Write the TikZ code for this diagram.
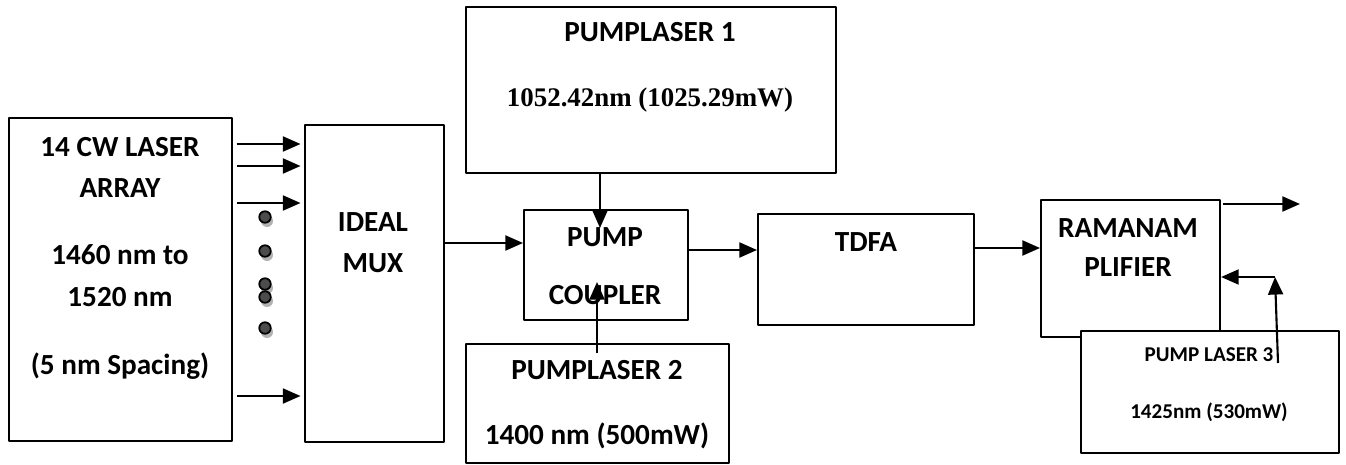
\documentclass[tikz,border=0pt]{standalone}
\usepackage{fontspec}
\setmainfont{Carlito}
\newfontfamily\tnr{Liberation Serif}
\usetikzlibrary{arrows.meta}
\begin{document}
\begin{tikzpicture}[x=0.2mm,y=-0.2mm,line join=round]
	\useasboundingbox (0,0) rectangle (1346,464);
	\tikzset{blk/.style={draw,line width=1.2pt,fill=white,anchor=north west,inner sep=0pt},
	lbl/.style={font=\bfseries\fontsize{16.6}{19}\selectfont,anchor=base,inner sep=0pt},
	lblnho/.style={font=\bfseries\fontsize{12}{14}\selectfont,anchor=base,inner sep=0pt},
	arr/.style={line width=1.2pt,-{Triangle[length=10pt,width=8.5pt]}}}
	% khoi
	\node[blk,minimum width=223*0.2mm,minimum height=323*0.2mm] (laser) at (8,117) {};
	\node[blk,minimum width=139*0.2mm,minimum height=317*0.2mm] (mux) at (304,124) {};
	\node[blk,minimum width=370*0.2mm,minimum height=166*0.2mm] (pump1) at (465,6) {};
	\node[blk,minimum width=164*0.2mm,minimum height=110*0.2mm] (coupler) at (523,209) {};
	\node[blk,minimum width=263*0.2mm,minimum height=119*0.2mm] (pump2) at (465,343) {};
	\node[blk,minimum width=216*0.2mm,minimum height=111*0.2mm] (tdfa) at (757,213) {};
	\node[blk,minimum width=179*0.2mm,minimum height=137*0.2mm] (raman) at (1040,199) {};
	\node[blk,minimum width=258*0.2mm,minimum height=122*0.2mm] (pump3) at (1080,330) {};
	% chu
	\foreach \t/\y [count=\i] in {14 CW LASER/156,ARRAY/197,1460 nm to/264,1520 nm/306,(5 nm Spacing)/374}
		\node[lbl] (la\i) at (120,\y) {\t};
	\node[lbl] (mux1) at (373,231) {IDEAL};
	\node[lbl] (mux2) at (373,272) {MUX};
	\node[lbl] (pa1) at (650,42) {PUMPLASER 1};
	\node[lbl,font=\tnr\bfseries\fontsize{15.3}{18}\selectfont] (pa2) at (650,107) {1052.42nm (1025.29mW)};
	\node[lbl] (co1) at (605,246) {PUMP};
	\node[lbl] (co2) at (605,304) {COUPLER};
	\node[lbl] (pb1) at (597,379) {PUMPLASER 2};
	\node[lbl] (pb2) at (597,444) {1400 nm (500mW)};
	\node[lbl] (td) at (866,251) {TDFA};
	\node[lbl] (ra1) at (1128,237) {RAMANAM};
	\node[lbl] (ra2) at (1128,276) {PLIFIER};
	\node[lblnho] (pc1) at (1209,361) {PUMP LASER 3};
	\node[lblnho] (pc2) at (1209,418) {1425nm (530mW)};
	% cham
	\foreach \y in {217,251,284,297,328}{
		\fill[gray!60] (267,\y+4) circle (1.2mm);
		\filldraw[fill=black!70,line width=1pt] (265,\y) circle (1.15mm);}
	% mui ten
	\foreach \y in {144,166,203,396}
		\draw[arr,shorten <=2pt,shorten >=2pt] (laser.east |- 0,\y) -- (mux.west |- 0,\y);
	\draw[arr] (mux.east |- 0,243) -- (coupler.west |- 0,243);
	\path (600,228) coordinate (p1end) (597,353) coordinate (p2start) (597,282) coordinate (p2end);
	\draw[arr] (pump1.south -| p1end) -- (p1end);
	\draw[arr] (p2start) -- (p2end);
	\draw[arr] (coupler.east |- 0,250) -- (tdfa.west |- 0,250);
	\draw[arr] (tdfa.east |- 0,248) -- (raman.west |- 0,248);
	\path (1300,204) coordinate (out) (1278,363) coordinate (p3start) (1275,277) coordinate (goc);
	\draw[arr,shorten <=1pt] (raman.east |- out) -- (out);
	\draw[arr] (p3start) -- (goc);
	\draw[arr] (goc) -- (raman.east |- goc);
\end{tikzpicture}
\end{document}
